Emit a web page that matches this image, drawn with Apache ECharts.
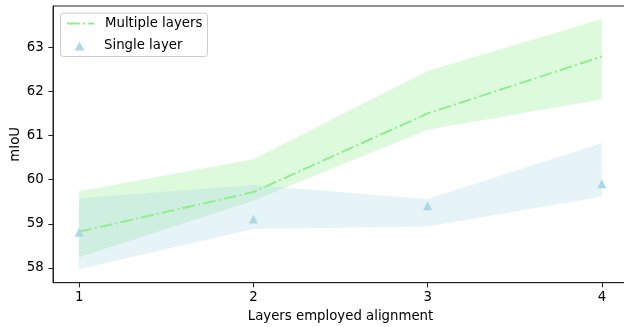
<!DOCTYPE html>
<html>
<head>
<meta charset="utf-8">
<script src="https://cdn.jsdelivr.net/npm/echarts@6/dist/echarts.min.js"></script>
<style>html,body{margin:0;padding:0;background:#fff}#c{width:624px;height:327px}</style>
</head>
<body>
<div id="c"></div>
<script>
const layers = [1, 2, 3, 4];
const multipleMean = [58.82, 59.72, 61.50, 62.79];
const multipleLower = [58.24, 59.52, 61.13, 61.82];
const multipleUpper = [59.74, 60.46, 62.46, 63.64];
const singleMean = [58.81, 59.11, 59.41, 59.91];
const singleLower = [57.97, 58.88, 58.94, 59.62];
const singleUpper = [59.58, 59.88, 59.56, 60.83];
const xTicks = [1, 2, 3, 4];
const yTicks = [58, 59, 60, 61, 62, 63];

const FONT = 'DejaVu Sans';
const FS = 13.3;
const AXC = '#222';

function band(lower, upper, color) {
  return {
    type: 'custom',
    silent: true,
    z: 1,
    data: layers.map((x, i) => [x, lower[i], upper[i]]),
    encode: { x: 0, y: [1, 2] },
    renderItem: function (params, api) {
      if (params.dataIndex !== 0) return null;
      const pts = [];
      for (let i = 0; i < layers.length; i++) pts.push(api.coord([layers[i], upper[i]]));
      for (let i = layers.length - 1; i >= 0; i--) pts.push(api.coord([layers[i], lower[i]]));
      return { type: 'polygon', shape: { points: pts }, style: { fill: color } };
    }
  };
}

const chart = echarts.init(document.getElementById('c'), null, { renderer: 'canvas' });
chart.setOption({
  animation: false,
  backgroundColor: '#fff',
  textStyle: { fontFamily: FONT },
  grid: { left: 53, top: 6, right: -4, bottom: 44.3, show: true, borderColor: AXC, borderWidth: 1, containLabel: false, outerBoundsMode: 'none' },
  xAxis: {
    type: 'value', min: 0.85, max: 4.15,
    name: 'Layers employed alignment', nameLocation: 'middle', nameGap: 27.5, nameMoveOverlap: false,
    nameTextStyle: { fontFamily: FONT, fontSize: FS, color: '#000' },
    axisLine: { show: true, lineStyle: { color: AXC, width: 1 } },
    axisTick: { show: true, customValues: xTicks, length: 4.7, lineStyle: { color: AXC } },
    axisLabel: { customValues: xTicks, margin: 8, fontFamily: FONT, fontSize: FS, color: '#000' },
    splitLine: { show: false }
  },
  yAxis: {
    type: 'value', min: 57.665, max: 63.935,
    name: 'mIoU', nameLocation: 'middle', nameGap: 31, nameRotate: 90, nameMoveOverlap: false,
    nameTextStyle: { fontFamily: FONT, fontSize: FS, color: '#000' },
    axisLine: { show: true, lineStyle: { color: AXC, width: 1 } },
    axisTick: { show: true, customValues: yTicks, length: 4.7, lineStyle: { color: AXC } },
    axisLabel: { customValues: yTicks, margin: 9.4, fontFamily: FONT, fontSize: FS, color: '#000' },
    splitLine: { show: false }
  },
  graphic: [{
    type: 'rect', left: 60, top: 12.7, z: 100,
    shape: { width: 147, height: 43.3, r: 3 },
    style: { fill: 'rgba(255,255,255,0.8)', stroke: '#cccccc', lineWidth: 1 }
  }],
  legend: [{
    data: ['Multiple layers'], orient: 'vertical', left: 66, top: 17, padding: 0,
    itemWidth: 27, itemHeight: 14, z: 110,
    itemStyle: { opacity: 0 },
    textStyle: { fontFamily: FONT, fontSize: FS, color: '#000', padding: [0, 0, 0, 6] }
  }, {
    data: [{ name: 'Single layer', icon: 'triangle' }], orient: 'vertical', left: 74.5, top: 39.5, padding: 0,
    itemWidth: 10, itemHeight: 9, z: 110,
    textStyle: { fontFamily: FONT, fontSize: FS, color: '#000', padding: [0, 0, 0, 14.5] }
  }],
  series: [
    band(multipleLower, multipleUpper, 'rgba(144,238,144,0.3)'),
    band(singleLower, singleUpper, 'rgba(173,216,230,0.3)'),
    {
      name: 'Multiple layers', type: 'line', z: 5,
      data: layers.map((x, i) => [x, multipleMean[i]]),
      symbol: 'none', showSymbol: false,
      lineStyle: { color: '#90EE90', width: 2, type: [12.8, 3.2, 2, 3.2] },
      itemStyle: { color: '#90EE90' }
    },
    {
      name: 'Single layer', type: 'scatter', z: 6,
      data: layers.map((x, i) => [x, singleMean[i]]),
      symbol: 'triangle', symbolSize: 9,
      itemStyle: { color: '#ADD8E6', opacity: 1 }
    }
  ]
});
</script>
</body>
</html>
